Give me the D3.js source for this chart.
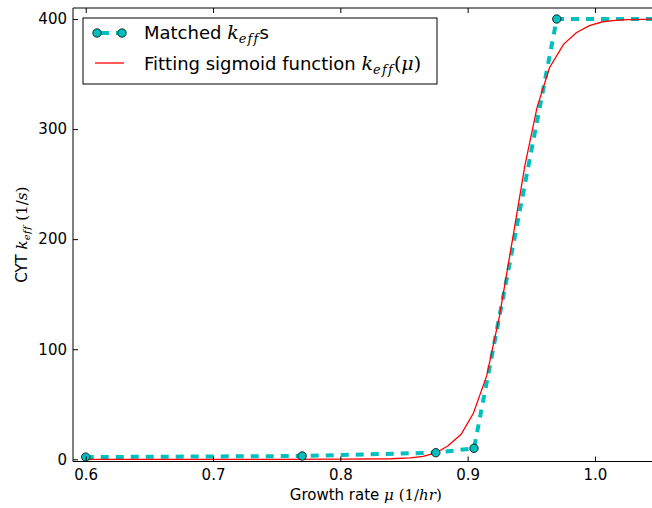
<!DOCTYPE html>
<html>
<head>
<meta charset="utf-8">
<script src="https://cdnjs.cloudflare.com/ajax/libs/d3/7.8.5/d3.min.js"></script>
<style>
  body { margin: 0; background: #fff; }
  svg { display: block; font-family: "DejaVu Sans", sans-serif; }
  .math { font-family: "DejaVu Serif", "Liberation Serif", serif; font-style: italic; font-variant-ligatures: none; }
  .up { font-family: "DejaVu Serif", "Liberation Serif", serif; font-style: normal; }
</style>
</head>
<body>
<div id="chart"></div>
<script>
// matched k_eff values (cyan dashed with markers)
var matchedMu = [0.6, 0.77, 0.875, 0.905, 0.97, 1.1];
var matchedK = [2, 3, 6, 10, 400, 400];

// fitted sigmoid, sampled points (red line)
var fitMu = [0.6, 0.65, 0.7, 0.75, 0.8, 0.84, 0.855, 0.865, 0.8744, 0.8844, 0.8949, 0.9046, 0.915,
  0.925, 0.935, 0.945, 0.9546, 0.9643, 0.9753, 0.9853, 0.9957, 1.006, 1.016, 1.026, 1.036, 1.046, 1.06];
var fitK = [0, 0, 0, 0, 0.1, 0.5, 1.3, 2.6, 5.5, 12, 22.7, 42, 76,
  130, 198, 267, 320, 355.7, 377, 387.5, 394, 397.5, 398.8, 399.4, 399.7, 399.9, 400];

var xTicks = [0.6, 0.7, 0.8, 0.9, 1.0];
var yTicks = [0, 100, 200, 300, 400];

var width = 652,
  height = 508;
var mLeft = 73, mTop = 8, mBottom = 461.5, mRight = 658.6;

var svg = d3.select("#chart").append("svg")
  .attr("width", width)
  .attr("height", height);

var x = d3.scaleLinear().domain([0.59, 1.05]).range([mLeft, mRight]);
var y = d3.scaleLinear().domain([-2, 410]).range([mBottom, mTop]);

svg.append("clipPath").attr("id", "clip")
  .append("rect")
  .attr("x", mLeft).attr("y", mTop)
  .attr("width", mRight - mLeft).attr("height", mBottom - mTop);

var plot = svg.append("g").attr("clip-path", "url(#clip)");

var line = d3.line()
  .x(d => x(d[0]))
  .y(d => y(d[1]));

var matched = d3.zip(matchedMu, matchedK);
var fit = d3.zip(fitMu, fitK);

plot.append("path")
  .datum(matched)
  .attr("d", line)
  .attr("fill", "none")
  .attr("stroke", "#00bfbf")
  .attr("stroke-width", 4)
  .attr("stroke-dasharray", "8,7");

plot.append("path")
  .datum(fit)
  .attr("d", line)
  .attr("fill", "none")
  .attr("stroke", "#ff0000")
  .attr("stroke-width", 1.3);

plot.selectAll(".pt")
  .data(matched)
  .enter().append("circle")
  .attr("class", "pt")
  .attr("cx", d => x(d[0]))
  .attr("cy", d => y(d[1]))
  .attr("r", 4.2)
  .attr("fill", "#00bfbf")
  .attr("stroke", "#000")
  .attr("stroke-width", 0.8);

// axes, ticks pointing inward
var tickLen = 5;
svg.append("g")
  .attr("transform", "translate(0," + mBottom + ")")
  .call(d3.axisBottom(x).tickValues(xTicks).tickSize(-tickLen).tickPadding(8).tickFormat(d3.format(".1f")))
  .call(g => g.select(".domain").remove());
svg.append("g")
  .attr("transform", "translate(0," + mTop + ")")
  .call(d3.axisTop(x).tickValues(xTicks).tickSize(-tickLen).tickFormat(""))
  .call(g => g.select(".domain").remove());
svg.append("g")
  .attr("transform", "translate(" + mLeft + ",0)")
  .call(d3.axisLeft(y).tickValues(yTicks).tickSize(-tickLen).tickPadding(6))
  .call(g => g.select(".domain").remove());

svg.selectAll(".tick line").attr("stroke", "#000");
svg.selectAll(".tick text")
  .attr("font-family", "DejaVu Sans, sans-serif")
  .attr("font-size", 15)
  .attr("fill", "#000");

// frame
svg.append("path")
  .attr("d", "M" + mRight + "," + mTop + "H" + mLeft + "V" + mBottom + "H" + mRight)
  .attr("fill", "none")
  .attr("stroke", "#000")
  .attr("stroke-width", 1);

// axis labels
var xl = svg.append("text")
  .attr("x", (mLeft + mRight) / 2)
  .attr("y", 500)
  .attr("text-anchor", "middle")
  .attr("font-size", 15);
xl.append("tspan").text("Growth rate ");
xl.append("tspan").attr("class", "math").text("μ");
xl.append("tspan").attr("class", "up").text(" (1/");
xl.append("tspan").attr("class", "math").text("hr");
xl.append("tspan").attr("class", "up").text(")");

var yl = svg.append("text")
  .attr("transform", "translate(27," + ((mTop + mBottom) / 2) + ") rotate(-90)")
  .attr("text-anchor", "middle")
  .attr("font-size", 15);
yl.append("tspan").text("CYT ");
yl.append("tspan").attr("class", "math").text("k");
yl.append("tspan").attr("class", "math").attr("font-size", 10).attr("dy", 3).attr("letter-spacing", 0.5).text("eff");
yl.append("tspan").attr("class", "up").attr("dy", -3).text(" (1/");
yl.append("tspan").attr("class", "math").text("s");
yl.append("tspan").attr("class", "up").text(")");

// legend
var lg = svg.append("g");
lg.append("rect")
  .attr("x", 83).attr("y", 18)
  .attr("width", 354).attr("height", 66)
  .attr("fill", "#fff")
  .attr("stroke", "#000")
  .attr("stroke-width", 1);

lg.append("line")
  .attr("x1", 97).attr("x2", 122).attr("y1", 33).attr("y2", 33)
  .attr("stroke", "#00bfbf").attr("stroke-width", 4).attr("stroke-dasharray", "8,7")
  .attr("stroke-dashoffset", -4);
lg.selectAll(".lpt")
  .data([97, 122])
  .enter().append("circle")
  .attr("cx", d => d).attr("cy", 33).attr("r", 4.2)
  .attr("fill", "#00bfbf").attr("stroke", "#000").attr("stroke-width", 0.8);

lg.append("line")
  .attr("x1", 95).attr("x2", 124).attr("y1", 63).attr("y2", 63)
  .attr("stroke", "#ff0000").attr("stroke-width", 1.3);

var t1 = lg.append("text").attr("x", 144).attr("y", 39).attr("font-size", 18);
t1.append("tspan").text("Matched ");
t1.append("tspan").attr("class", "math").attr("font-size", 19).text("k");
t1.append("tspan").attr("class", "math").attr("font-size", 13).attr("dy", 4).attr("letter-spacing", 1.2).text("eff");
t1.append("tspan").attr("dy", -4).text("s");

var t2 = lg.append("text").attr("x", 144).attr("y", 70).attr("font-size", 18);
t2.append("tspan").text("Fitting sigmoid function ");
t2.append("tspan").attr("class", "math").attr("font-size", 19).text("k");
t2.append("tspan").attr("class", "math").attr("font-size", 13).attr("dy", 4).attr("letter-spacing", 1.2).text("eff");
t2.append("tspan").attr("class", "up").attr("font-size", 19).attr("dy", -4).text("(");
t2.append("tspan").attr("class", "math").attr("font-size", 19).text("μ");
t2.append("tspan").attr("class", "up").attr("font-size", 19).text(")");
</script>
</body>
</html>
